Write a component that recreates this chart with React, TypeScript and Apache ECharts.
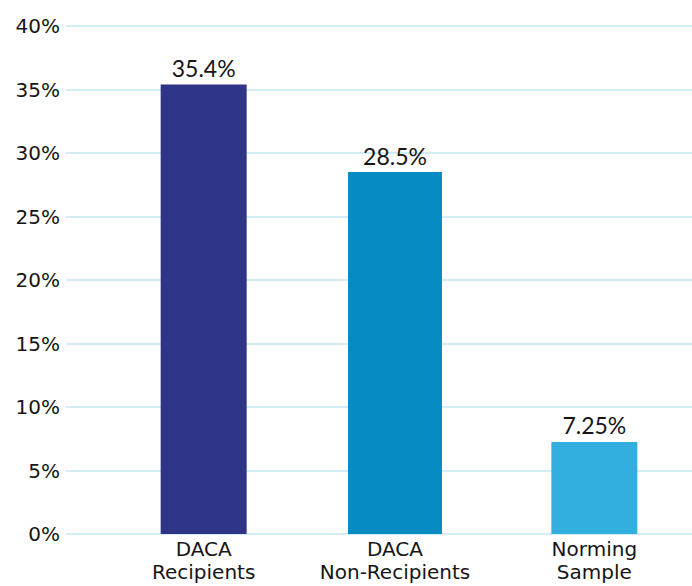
import React, { useEffect, useRef } from "react";
import * as echarts from "echarts";

const categories = ["DACA\nRecipients", "DACA\nNon-Recipients", "Norming\nSample"];
const values = [35.4, 28.5, 7.25];
const barColors = ["#2e3586", "#078bc3", "#32aedf"];
const yMin = 0;
const yMax = 40;
const yInterval = 5;

export default function App() {
  const ref = useRef<HTMLDivElement>(null);
  useEffect(() => {
    if (!ref.current) return;
    const chart = echarts.init(ref.current, undefined, { renderer: "svg" });
    const textColor = "#151515";
    const mkData = (keep: (i: number) => boolean) =>
      values.map((v, i) =>
        keep(i) ? { value: v, itemStyle: { color: barColors[i] } } : "-"
      );
    const label = {
      show: true,
      position: "top",
      distance: 5,
      formatter: "{c}%",
      fontFamily: "Lato",
      fontWeight: 400,
      fontSize: 23,
      color: textColor,
    };
    const xLabel = (keep: (i: number) => boolean) => ({
      show: true,
      interval: 0,
      margin: 3,
      fontFamily: "DejaVu Sans",
      fontSize: 20,
      lineHeight: 23,
      color: textColor,
      formatter: (v: string, i: number) => (keep(i) ? v : ""),
    });
    const hiddenY = (idx: number) => ({
      type: "value",
      gridIndex: idx,
      min: yMin,
      max: yMax,
      interval: yInterval,
      show: false,
    });
    chart.setOption({
      animation: false,
      grid: [
        { left: 66, right: 0, top: 26, bottom: 52 },
        { left: 106, right: -2, top: 26, bottom: 52 },
        { left: 101, right: 3, top: 26, bottom: 52 },
      ],
      xAxis: [
        { type: "category", gridIndex: 0, data: categories, show: false },
        {
          type: "category",
          gridIndex: 1,
          data: categories,
          axisLine: { show: false },
          axisTick: { show: false },
          axisLabel: xLabel((i) => i !== 1),
        },
        {
          type: "category",
          gridIndex: 2,
          data: categories,
          axisLine: { show: false },
          axisTick: { show: false },
          axisLabel: xLabel((i) => i === 1),
        },
      ],
      yAxis: [
        {
          type: "value",
          gridIndex: 0,
          min: yMin,
          max: yMax,
          interval: yInterval,
          axisLine: { show: false },
          axisTick: { show: false },
          splitLine: { lineStyle: { color: "#c5e7f4", width: 1.5 } },
          axisLabel: {
            formatter: "{value}%",
            margin: 6,
            fontFamily: "DejaVu Sans",
            fontSize: 20,
            color: textColor,
          },
        },
        hiddenY(1),
        hiddenY(2),
      ],
      series: [
        {
          type: "bar",
          xAxisIndex: 1,
          yAxisIndex: 1,
          barWidth: 86,
          data: mkData((i) => i !== 1),
          label,
        },
        {
          type: "bar",
          xAxisIndex: 2,
          yAxisIndex: 2,
          barWidth: 94,
          data: mkData((i) => i === 1),
          label,
        },
      ],
    });
    return () => chart.dispose();
  }, []);
  return (
    <div
      ref={ref}
      style={{ position: "fixed", left: 0, top: 0, width: 692, height: 586, background: "#fff" }}
    />
  );
}
